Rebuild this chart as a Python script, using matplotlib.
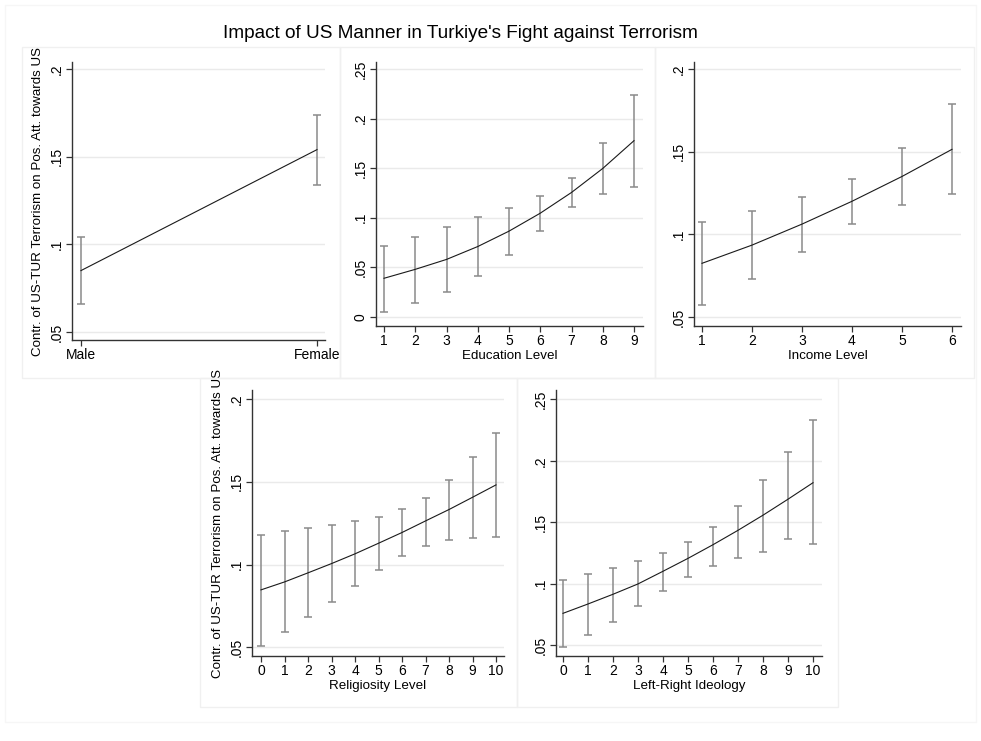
import numpy as np
import matplotlib
matplotlib.use("Agg")
import matplotlib.pyplot as plt
from matplotlib.patches import Rectangle

plt.rcParams['font.family'] = ['Liberation Sans', 'DejaVu Sans']

# ---- data ----
sex_x = [0, 1]
sex_labels = ['Male', 'Female']
sex_mid = [0.085, 0.154]
sex_lo = [0.066, 0.134]
sex_hi = [0.104, 0.174]

edu_x = [1, 2, 3, 4, 5, 6, 7, 8, 9]
edu_mid = [0.039, 0.048, 0.058, 0.071, 0.0865, 0.1046, 0.1255, 0.1497, 0.1777]
edu_lo = [0.005, 0.0141, 0.0256, 0.0414, 0.0622, 0.0868, 0.1107, 0.1238, 0.1312]
edu_hi = [0.0717, 0.081, 0.091, 0.1006, 0.110, 0.1218, 0.140, 0.175, 0.2237]

inc_x = [1, 2, 3, 4, 5, 6]
inc_mid = [0.0825, 0.0935, 0.1062, 0.120, 0.135, 0.1514]
inc_lo = [0.0575, 0.0728, 0.0895, 0.106, 0.1175, 0.1244]
inc_hi = [0.1073, 0.1143, 0.1224, 0.1337, 0.1522, 0.1788]

rel_x = [0, 1, 2, 3, 4, 5, 6, 7, 8, 9, 10]
rel_mid = [0.0847, 0.0895, 0.095, 0.1006, 0.1065, 0.1129, 0.1194, 0.1264, 0.1333, 0.1407, 0.1482]
rel_lo = [0.051, 0.0593, 0.0681, 0.0772, 0.0871, 0.0968, 0.105, 0.1113, 0.1151, 0.1163, 0.1167]
rel_hi = [0.118, 0.1202, 0.122, 0.1238, 0.1262, 0.1288, 0.1335, 0.1405, 0.1514, 0.165, 0.1798]

ideo_x = [0, 1, 2, 3, 4, 5, 6, 7, 8, 9, 10]
ideo_mid = [0.076, 0.0836, 0.0915, 0.0999, 0.1102, 0.1207, 0.1318, 0.1435, 0.1558, 0.1688, 0.1822]
ideo_lo = [0.0486, 0.0587, 0.0692, 0.0817, 0.0942, 0.1056, 0.1148, 0.1213, 0.1256, 0.1367, 0.1321]
ideo_hi = [0.1031, 0.108, 0.1131, 0.1188, 0.1248, 0.1337, 0.1465, 0.1636, 0.1841, 0.2075, 0.2329]

yt_a = [0.05, 0.1, 0.15, 0.2]
yt_a_labels = ['.05', '.1', '.15', '.2']
yt_b = [0, 0.05, 0.1, 0.15, 0.2, 0.25]
yt_b_labels = ['0', '.05', '.1', '.15', '.2', '.25']
yt_c = [0.05, 0.1, 0.15, 0.2, 0.25]
yt_c_labels = ['.05', '.1', '.15', '.2', '.25']

title = "Impact of US Manner in Turkiye's Fight against Terrorism"
ylab = "Contr. of US-TUR Terrorism on Pos. Att. towards US"

W, H = 981, 741
fig = plt.figure(figsize=(W / 100, H / 100), dpi=100)
fs = 9.6

def px(l, t, r, b):
    # pixel box -> figure fraction
    return [l / W, 1 - b / H, (r - l) / W, (b - t) / H]

# faint panel frames like stata's combined graph
for (l, t, r, b), c in [((5, 5, 976, 722), '#f6f6f6'), ((22, 47, 340, 378), '#f0f0f0'),
                        ((340, 47, 655, 378), '#f0f0f0'), ((655, 47, 974, 378), '#f0f0f0'),
                        ((200, 378, 517, 707), '#f0f0f0'), ((517, 378, 838, 707), '#f0f0f0')]:
    fig.patches.append(Rectangle((l / W, 1 - b / H), (r - l) / W, (b - t) / H, transform=fig.transFigure,
                                 fill=False, edgecolor=c, linewidth=1.0))

fig.text(460 / W, 1 - 33 / H, title, ha='center', va='center', fontsize=13.7)

def panel(box, x, mid, lo, hi, xlim, ylim, yt, ytl, xlabel=None, ylabel=None, xtl=None):
    ax = fig.add_axes(px(*box))
    mid = np.array(mid)
    err = [mid - np.array(lo), np.array(hi) - mid]
    ax.errorbar(x, mid, yerr=err, fmt='none', ecolor='#8a8a8a', elinewidth=1.1, capsize=3.2, capthick=1.1, zorder=2)
    ax.plot(x, mid, color='#1a1a1a', linewidth=0.8, zorder=3)
    ax.set_xlim(xlim)
    ax.set_ylim(ylim)
    ax.set_yticks(yt)
    ax.set_yticklabels(ytl)
    ax.set_xticks(x)
    if xtl is not None:
        ax.set_xticklabels(xtl)
    ax.grid(axis='y', color='#eaeaea', linewidth=1.0, zorder=0)
    ax.set_axisbelow(True)
    for s in ['top', 'right']:
        ax.spines[s].set_visible(False)
    for s in ['left', 'bottom']:
        ax.spines[s].set_color('#333333')
        ax.spines[s].set_linewidth(1.0)
    ax.tick_params(axis='both', length=4, width=0.9, color='#333333', labelsize=fs + 0.4, pad=2)
    ax.tick_params(axis='y', labelrotation=90)
    for t in ax.get_yticklabels():
        t.set_va('center')
    if xlabel:
        ax.set_xlabel(xlabel, fontsize=fs, labelpad=1.5)
    if ylabel:
        ax.set_ylabel(ylabel, fontsize=fs, labelpad=4)
    return ax

panel((72, 62, 325, 340), sex_x, sex_mid, sex_lo, sex_hi, (-0.038, 1.034), (0.0454, 0.204),
      yt_a, yt_a_labels, ylabel=ylab, xtl=sex_labels)
panel((376, 62, 643, 326), edu_x, edu_mid, edu_lo, edu_hi, (0.744, 9.288), (-0.0091, 0.257),
      yt_b, yt_b_labels, xlabel='Education Level')
panel((694, 62, 961, 326), inc_x, inc_mid, inc_lo, inc_hi, (0.84, 6.18), (0.0446, 0.2042),
      yt_a, yt_a_labels, xlabel='Income Level')
panel((252, 390, 504, 656), rel_x, rel_mid, rel_lo, rel_hi, (-0.383, 10.34), (0.0447, 0.2056),
      yt_a, yt_a_labels, xlabel='Religiosity Level', ylabel=ylab)
panel((556, 390, 822, 656), ideo_x, ideo_mid, ideo_lo, ideo_hi, (-0.28, 10.36), (0.0413, 0.2576),
      yt_c, yt_c_labels, xlabel='Left-Right Ideology')

fig.savefig('out.png', dpi=100, facecolor='white')
